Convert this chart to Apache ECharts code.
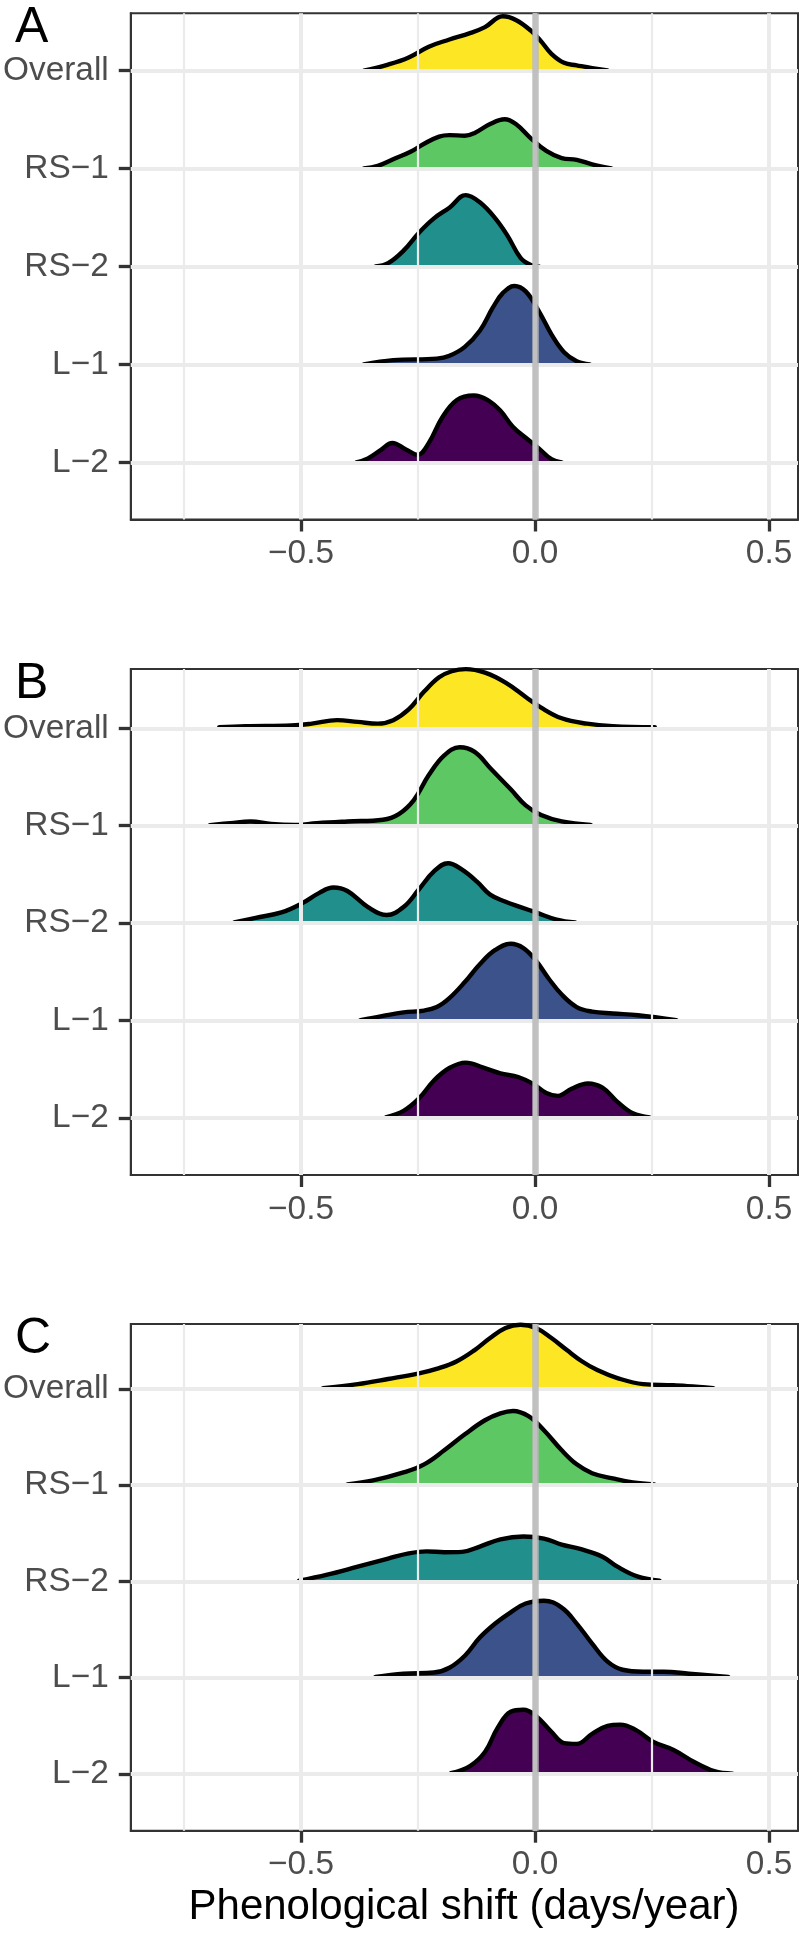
<!DOCTYPE html>
<html>
<head>
<meta charset="utf-8">
<script src="https://cdn.jsdelivr.net/npm/echarts@6/dist/echarts.min.js"></script>
<style>html,body{margin:0;padding:0;background:#fff}#c{width:800px;height:1940px}</style>
</head>
<body>
<div id="c"></div>
<script>
// ---------- data (x = phenological shift, h = ridge height in category units) ----------
const categories = ['Overall', 'RS\u22121', 'RS\u22122', 'L\u22121', 'L\u22122'];
const panelTags = ['A', 'B', 'C'];
const xTickValues = [-0.5, 0, 0.5];
const xTickLabels = ['\u22120.5', '0.0', '0.5'];
const xMinorValues = [-0.75, -0.25, 0.25];
const yTickValues = [5, 4, 3, 2, 1];
const xTitle = 'Phenological shift (days/year)';

const A_overall = [[-0.366,0],[-0.314,0.062],[-0.270,0.135],[-0.227,0.245],[-0.183,0.318],[-0.139,0.383],[-0.107,0.445],[-0.069,0.555],[-0.041,0.518],[-0.009,0.409],[0.013,0.299],[0.035,0.172],[0.062,0.080],[0.089,0.055],[0.122,0.026],[0.155,0.003]];
const A_rs1 = [[-0.366,0.003],[-0.336,0.029],[-0.297,0.109],[-0.265,0.175],[-0.237,0.255],[-0.205,0.328],[-0.183,0.343],[-0.150,0.336],[-0.129,0.365],[-0.096,0.456],[-0.065,0.504],[-0.041,0.456],[-0.009,0.310],[0.024,0.182],[0.057,0.109],[0.089,0.091],[0.122,0.044],[0.163,0.003]];
const A_rs2 = [[-0.341,0.003],[-0.314,0.036],[-0.281,0.164],[-0.248,0.347],[-0.216,0.493],[-0.183,0.602],[-0.148,0.730],[-0.118,0.657],[-0.085,0.493],[-0.058,0.310],[-0.031,0.091],[-0.009,0.018],[0.008,0.003]];
const A_l1 = [[-0.366,0.003],[-0.303,0.047],[-0.210,0.062],[-0.183,0.091],[-0.150,0.182],[-0.118,0.347],[-0.090,0.584],[-0.069,0.730],[-0.044,0.803],[-0.020,0.748],[0.008,0.547],[0.035,0.310],[0.062,0.128],[0.089,0.036],[0.117,0.003]];
const A_l2 = [[-0.382,0.003],[-0.357,0.044],[-0.330,0.128],[-0.305,0.201],[-0.276,0.135],[-0.251,0.080],[-0.227,0.201],[-0.199,0.456],[-0.167,0.639],[-0.131,0.686],[-0.101,0.639],[-0.074,0.529],[-0.047,0.365],[-0.020,0.255],[0.008,0.146],[0.035,0.036],[0.057,0.003]];

const B_overall = [[-0.675,0.011],[-0.619,0.022],[-0.521,0.029],[-0.477,0.048],[-0.423,0.084],[-0.379,0.066],[-0.336,0.048],[-0.303,0.084],[-0.270,0.194],[-0.237,0.377],[-0.205,0.524],[-0.178,0.586],[-0.148,0.608],[-0.107,0.571],[-0.063,0.469],[-0.020,0.322],[0.013,0.212],[0.057,0.103],[0.111,0.048],[0.166,0.022],[0.256,0.011]];
const B_rs1 = [[-0.695,0.007],[-0.651,0.026],[-0.608,0.044],[-0.564,0.018],[-0.515,0.007],[-0.466,0.026],[-0.401,0.044],[-0.325,0.062],[-0.292,0.117],[-0.259,0.264],[-0.227,0.520],[-0.194,0.722],[-0.161,0.806],[-0.129,0.758],[-0.096,0.593],[-0.052,0.374],[-0.020,0.209],[0.013,0.110],[0.057,0.044],[0.119,0.007]];
const B_rs2 = [[-0.643,0.007],[-0.597,0.055],[-0.542,0.110],[-0.499,0.201],[-0.461,0.311],[-0.431,0.366],[-0.401,0.330],[-0.357,0.165],[-0.317,0.084],[-0.281,0.165],[-0.248,0.348],[-0.216,0.531],[-0.186,0.615],[-0.156,0.549],[-0.123,0.421],[-0.096,0.293],[-0.063,0.220],[-0.031,0.165],[0.002,0.110],[0.046,0.037],[0.086,0.007]];
const B_l1 = [[-0.373,0.004],[-0.325,0.048],[-0.281,0.084],[-0.237,0.103],[-0.210,0.139],[-0.183,0.231],[-0.150,0.396],[-0.118,0.579],[-0.085,0.725],[-0.052,0.788],[-0.025,0.744],[0.002,0.615],[0.029,0.432],[0.057,0.267],[0.089,0.139],[0.122,0.092],[0.166,0.073],[0.220,0.055],[0.302,0.004]];
const B_l2 = [[-0.319,0.007],[-0.281,0.073],[-0.248,0.201],[-0.216,0.385],[-0.183,0.513],[-0.148,0.568],[-0.112,0.520],[-0.074,0.458],[-0.036,0.421],[-0.003,0.348],[0.024,0.256],[0.049,0.227],[0.078,0.300],[0.113,0.355],[0.144,0.311],[0.176,0.165],[0.209,0.048],[0.245,0.007]];

const C_overall = [[-0.453,0.008],[-0.379,0.050],[-0.314,0.104],[-0.248,0.163],[-0.205,0.217],[-0.167,0.288],[-0.129,0.404],[-0.096,0.529],[-0.063,0.633],[-0.031,0.667],[0.002,0.633],[0.035,0.529],[0.068,0.404],[0.100,0.288],[0.133,0.196],[0.176,0.113],[0.231,0.050],[0.296,0.038],[0.381,0.008]];
const C_rs1 = [[-0.401,0.008],[-0.346,0.050],[-0.281,0.133],[-0.237,0.217],[-0.194,0.363],[-0.150,0.529],[-0.107,0.675],[-0.074,0.746],[-0.047,0.771],[-0.014,0.717],[0.019,0.571],[0.057,0.363],[0.089,0.217],[0.122,0.125],[0.166,0.071],[0.209,0.029],[0.255,0.008]];
const C_rs2 = [[-0.504,0.008],[-0.444,0.071],[-0.379,0.154],[-0.314,0.238],[-0.270,0.292],[-0.232,0.313],[-0.194,0.304],[-0.156,0.308],[-0.118,0.363],[-0.074,0.438],[-0.025,0.467],[0.019,0.446],[0.057,0.383],[0.100,0.333],[0.144,0.258],[0.176,0.154],[0.220,0.050],[0.266,0.008]];
const C_l1 = [[-0.341,0.008],[-0.281,0.042],[-0.216,0.054],[-0.183,0.104],[-0.150,0.229],[-0.118,0.417],[-0.085,0.563],[-0.052,0.679],[-0.020,0.771],[0.019,0.800],[0.057,0.729],[0.089,0.563],[0.122,0.354],[0.155,0.167],[0.187,0.083],[0.231,0.063],[0.275,0.063],[0.329,0.042],[0.413,0.008]];
const C_l2 = [[-0.180,0.008],[-0.139,0.083],[-0.107,0.229],[-0.080,0.479],[-0.052,0.646],[-0.025,0.667],[0.002,0.604],[0.035,0.438],[0.062,0.321],[0.089,0.313],[0.122,0.417],[0.155,0.500],[0.182,0.513],[0.215,0.458],[0.253,0.333],[0.296,0.250],[0.340,0.125],[0.383,0.029],[0.422,0.003]];

// ---------- layout & style ----------
const ridgeColors = ['#FDE725', '#5DC863', '#21908C', '#3B528B', '#440154'];
const FONT = "'Liberation Sans', Arial, Helvetica, sans-serif";
const X_MIN = -0.8639, X_MAX = 0.5619;
const panels = [
  { top: 13.3,  height: 506.2, ymin: 0.4204, ymax: 5.5857, ridges: [A_overall, A_rs1, A_rs2, A_l1, A_l2] },
  { top: 669,   height: 506,   ymin: 0.415,  ymax: 5.609,  ridges: [B_overall, B_rs1, B_rs2, B_l1, B_l2] },
  { top: 1324,  height: 506.7, ymin: 0.411,  ymax: 5.675,  ridges: [C_overall, C_rs1, C_rs2, C_l1, C_l2] }
];

const grid = [], xAxis = [], yAxis = [], series = [], graphic = [];

panels.forEach((p, i) => {
  grid.push({ left: 130, top: p.top, width: 668, height: p.height, show: true,
    borderColor: '#333333', borderWidth: 2, backgroundColor: '#ffffff', containLabel: false });
  xAxis.push({
    type: 'value', gridIndex: i, min: X_MIN, max: X_MAX,
    axisLine: { show: true, onZero: false, lineStyle: { color: '#333333', width: 2 } },
    axisTick: { show: true, customValues: xTickValues, length: 12, lineStyle: { color: '#333333', width: 3.3 } },
    axisLabel: { show: true, customValues: xTickValues, margin: 18, fontSize: 33.4, color: '#4D4D4D', fontFamily: FONT,
      formatter: v => { const k = xTickValues.findIndex(t => Math.abs(t - v) < 1e-9); return k >= 0 ? xTickLabels[k] : ''; } },
    splitLine: { show: false }, splitArea: { show: false }
  });
  yAxis.push({
    type: 'value', gridIndex: i, min: p.ymin, max: p.ymax,
    axisLine: { show: true, onZero: false, lineStyle: { color: '#333333', width: 2 } },
    axisTick: { show: true, customValues: yTickValues, length: 12, lineStyle: { color: '#333333', width: 3.3 } },
    axisLabel: { show: true, customValues: yTickValues, margin: 22, fontSize: 33.4, color: '#4D4D4D', fontFamily: FONT,
      formatter: v => categories[5 - Math.round(v)] },
    splitLine: { show: false }
  });
  // background grid lines
  const gl = [];
  xMinorValues.forEach(v => gl.push({ xAxis: v, lineStyle: { color: '#EBEBEB', width: 2.2, type: 'solid' } }));
  xTickValues.forEach(v => gl.push({ xAxis: v, lineStyle: { color: '#EBEBEB', width: 4, type: 'solid' } }));
  yTickValues.forEach(v => gl.push({ yAxis: v, lineStyle: { color: '#EBEBEB', width: 4, type: 'solid' } }));
  series.push({ type: 'line', xAxisIndex: i, yAxisIndex: i, data: [[0, 1]], showSymbol: false, symbol: 'none',
    lineStyle: { opacity: 0 }, z: 1, silent: true, animation: false,
    markLine: { silent: true, animation: false, symbol: ['none', 'none'], label: { show: false }, emphasis: { disabled: true }, data: gl } });
  // ridges, top category first so lower ridges overlay upper ones
  p.ridges.forEach((r, k) => {
    const base = 5 - k;
    series.push({
      type: 'line', xAxisIndex: i, yAxisIndex: i,
      data: r.map(d => [d[0], base + d[1]]),
      smooth: 0.4, showSymbol: false, symbol: 'none',
      z: 3, silent: true, animation: false,
      lineStyle: { color: '#000000', width: 4.4, cap: 'round', join: 'round' },
      areaStyle: { color: ridgeColors[k], opacity: 1, origin: base }
    });
  });
  // vertical reference line at 0
  series.push({ type: 'line', xAxisIndex: i, yAxisIndex: i, data: [[0, 1]], showSymbol: false, symbol: 'none',
    lineStyle: { opacity: 0 }, z: 6, silent: true, animation: false,
    markLine: { silent: true, animation: false, symbol: ['none', 'none'], label: { show: false }, emphasis: { disabled: true },
      data: [{ xAxis: 0, lineStyle: { color: 'rgba(185,185,185,0.85)', width: 6.5, type: 'solid' } }] } });
  // panel tag
  graphic.push({ type: 'text', x: 15, y: p.top + 15, silent: true,
    style: { text: panelTags[i], font: '50px ' + FONT, fill: '#000000', align: 'left', verticalAlign: 'middle' } });
});

graphic.push({ type: 'text', x: 464, y: 1907, silent: true,
  style: { text: xTitle, font: '42px ' + FONT, fill: '#000000', align: 'center', verticalAlign: 'middle' } });

const chart = echarts.init(document.getElementById('c'), null, { renderer: 'canvas' });
chart.setOption({
  animation: false,
  backgroundColor: '#ffffff',
  grid, xAxis, yAxis, series, graphic
});
</script>
</body>
</html>
